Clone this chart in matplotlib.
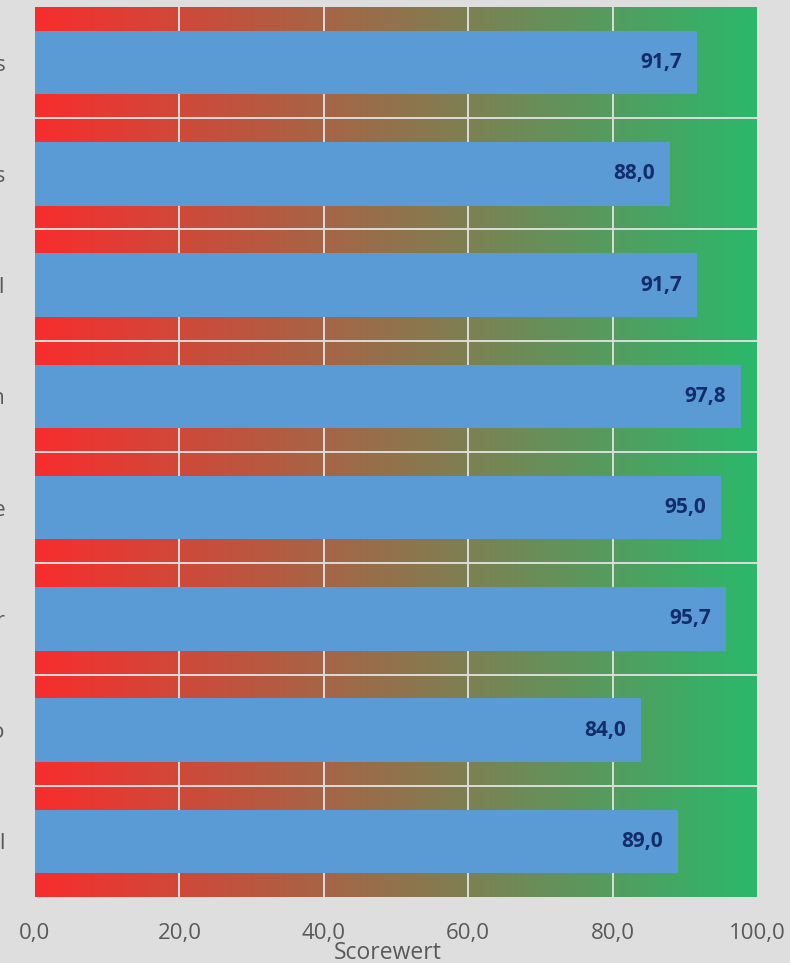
import numpy as np
import matplotlib
matplotlib.use("Agg")
import matplotlib.pyplot as plt
from matplotlib.colors import LinearSegmentedColormap

categories = ["Strategie und Prozess", "Kundenfokus", "Personal", "Führen",
              "Kultur und Werte", "Partner", "Risiko", "Ziel"]
values = [91.7, 88.0, 91.7, 97.8, 95.0, 95.7, 84.0, 89.0]
xticks = [0, 20, 40, 60, 80, 100]
xlabel = "Scorewert"

bg = "#dedede"
fig = plt.figure(figsize=(7.9, 9.63), dpi=100, facecolor=bg)
ax = fig.add_axes([35/790, 66/963, 722/790, 890/963])
ax.set_facecolor(bg)

n = len(categories)
ypos = np.arange(n)

# gradient background
cmap = LinearSegmentedColormap.from_list("rg", ["#f82d2d", "#2bb86b"])
grad = np.linspace(0, 1, 512).reshape(1, -1)
ax.imshow(grad, cmap=cmap, aspect="auto", extent=[0, 100, n - 0.5, -0.5],
          zorder=0, interpolation="bilinear")

# vertical grid
for t in xticks[1:-1]:
    ax.axvline(t, color="#dcdcdc", lw=1.4, zorder=1)
# horizontal separators
for b in np.arange(0.5, n - 0.5, 1):
    ax.axhline(b, color="#dcdcdc", lw=1.4, zorder=1)

ax.barh(ypos, values, height=0.57, color="#5b9bd5", zorder=2)

for y, v in zip(ypos, values):
    ax.text(v - 2.1, y, f"{v:.1f}".replace(".", ","), ha="right", va="center",
            fontsize=15, fontweight="bold", color="#132c6b",
            family="Open Sans", zorder=3)

ax.set_xlim(0, 100)
ax.set_ylim(n - 0.5, -0.5)
ax.set_xticks(xticks)
ax.set_xticklabels([f"{t:.1f}".replace(".", ",") for t in xticks],
                   fontsize=16, color="#595959", family="Open Sans")
ax.set_yticks(ypos)
ax.set_yticklabels(categories, fontsize=16, color="#595959", family="Open Sans")
ax.tick_params(axis="x", length=0, pad=19)
ax.tick_params(axis="y", length=0, pad=21)
ax.set_xlabel(xlabel, fontsize=16.5, color="#595959", family="Open Sans")
ax.xaxis.set_label_coords(0.488, -0.049)
for s in ax.spines.values():
    s.set_visible(False)

fig.savefig("out.png", dpi=100, facecolor=bg)
